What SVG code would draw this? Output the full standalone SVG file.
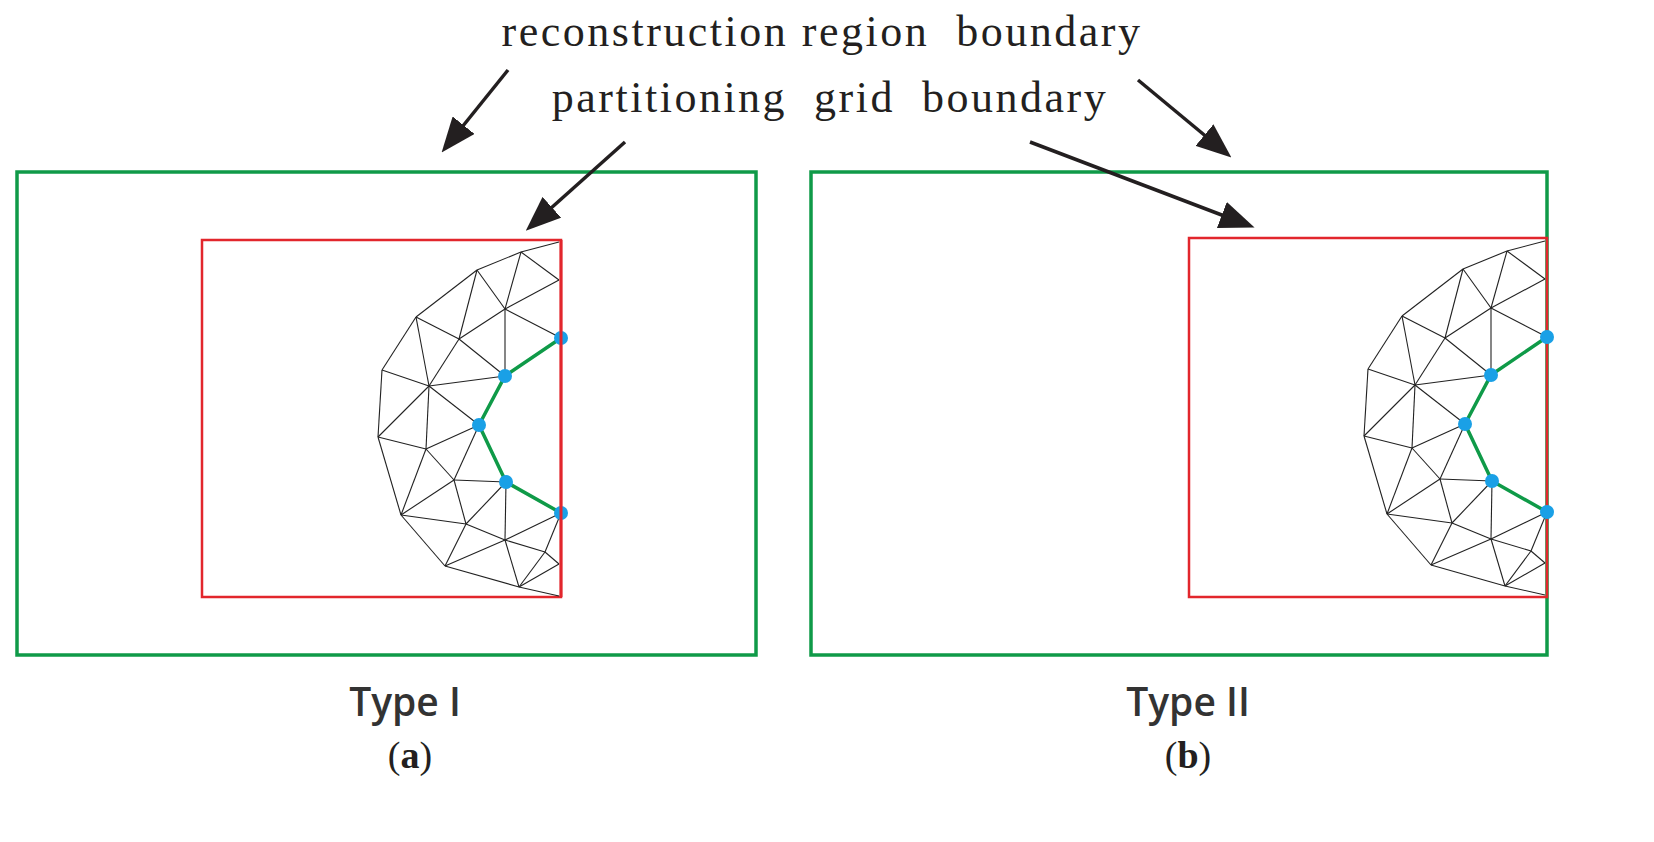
<svg xmlns="http://www.w3.org/2000/svg" width="1654" height="842" viewBox="0 0 1654 842">
<style>
.serif{font-family:"Liberation Serif","DejaVu Serif",serif;fill:#231f20}
.sans{font-family:"Open Sans","Liberation Sans",sans-serif;fill:#333;font-weight:600}
.mesh line{stroke:#222;stroke-width:1.1}
.grn{stroke:#0f9a48;stroke-width:3.5;fill:none}
.red{stroke:#e2262c;stroke-width:2.5;fill:none}
.outer{stroke:#0f9a48;stroke-width:3.5;fill:none}
.dot{fill:#1aa0e6}
.arr{stroke:#231f20;stroke-width:3.5;marker-end:url(#ah)}
</style>
<defs>
<marker id="ah" markerWidth="10" markerHeight="8" refX="8" refY="4" orient="auto" markerUnits="strokeWidth"><path d="M0,0 L10,4 L0,8 Z" fill="#231f20"/></marker>
<g id="meshdef">
<g class="mesh">
<line x1="559" y1="242" x2="521" y2="252"/><line x1="521" y1="252" x2="477" y2="270"/><line x1="477" y1="270" x2="416" y2="317"/><line x1="416" y1="317" x2="382" y2="370"/><line x1="382" y1="370" x2="378" y2="437"/><line x1="378" y1="437" x2="401" y2="515"/><line x1="401" y1="515" x2="445" y2="566"/><line x1="445" y1="566" x2="519" y2="587"/><line x1="519" y1="587" x2="559" y2="596"/>
<line x1="521" y1="252" x2="505" y2="309"/><line x1="521" y1="252" x2="559" y2="280"/><line x1="505" y1="309" x2="559" y2="280"/><line x1="505" y1="309" x2="561" y2="338"/>
<line x1="477" y1="270" x2="505" y2="309"/><line x1="477" y1="270" x2="459" y2="339"/><line x1="459" y1="339" x2="505" y2="309"/>
<line x1="416" y1="317" x2="459" y2="339"/><line x1="416" y1="317" x2="429" y2="386"/><line x1="459" y1="339" x2="429" y2="386"/><line x1="459" y1="339" x2="505" y2="376"/><line x1="505" y1="309" x2="505" y2="376"/>
<line x1="429" y1="386" x2="505" y2="376"/><line x1="429" y1="386" x2="382" y2="370"/><line x1="429" y1="386" x2="378" y2="437"/><line x1="429" y1="386" x2="426" y2="449"/><line x1="429" y1="386" x2="479" y2="425"/>
<line x1="378" y1="437" x2="426" y2="449"/><line x1="426" y1="449" x2="479" y2="425"/><line x1="426" y1="449" x2="401" y2="515"/><line x1="426" y1="449" x2="454" y2="480"/>
<line x1="454" y1="480" x2="479" y2="425"/><line x1="454" y1="480" x2="506" y2="482"/><line x1="454" y1="480" x2="401" y2="515"/><line x1="454" y1="480" x2="466" y2="524"/>
<line x1="401" y1="515" x2="466" y2="524"/><line x1="466" y1="524" x2="445" y2="566"/><line x1="466" y1="524" x2="506" y2="482"/><line x1="466" y1="524" x2="505" y2="540"/>
<line x1="505" y1="540" x2="506" y2="482"/><line x1="505" y1="540" x2="445" y2="566"/><line x1="505" y1="540" x2="519" y2="587"/><line x1="505" y1="540" x2="561" y2="513"/><line x1="505" y1="540" x2="545" y2="552"/>
<line x1="545" y1="552" x2="561" y2="513"/><line x1="545" y1="552" x2="519" y2="587"/><line x1="545" y1="552" x2="559" y2="564"/><line x1="519" y1="587" x2="559" y2="564"/>
</g>
<polyline class="grn" points="561,338 505,376 479,425 506,482 561,513"/>
<circle class="dot" cx="561" cy="338" r="7"/><circle class="dot" cx="505" cy="376" r="7"/><circle class="dot" cx="479" cy="425" r="7"/><circle class="dot" cx="506" cy="482" r="7"/><circle class="dot" cx="561" cy="513" r="7"/>
</g>
</defs>
<g id="labels">
<text class="serif" x="822" y="46" font-size="44" text-anchor="middle" letter-spacing="2.5" xml:space="preserve">reconstruction region  boundary</text>
<text class="serif" x="830" y="112" font-size="44" text-anchor="middle" letter-spacing="2.5" xml:space="preserve">partitioning  grid  boundary</text>
</g>
<g id="typeI">
<rect class="outer" x="17" y="172" width="739" height="483"/>
<rect class="red" x="202" y="240" width="359" height="357"/>
<use href="#meshdef"/>
<line x1="561" y1="240" x2="561" y2="597" stroke="#e2262c" stroke-width="3"/>
<text class="sans" x="405" y="716" font-size="39" text-anchor="middle">Type I</text>
<text class="serif" x="410" y="768" font-size="38" text-anchor="middle">(<tspan font-weight="bold">a</tspan>)</text>
</g>
<g id="typeII">
<rect class="outer" x="811" y="172" width="736" height="483"/>
<rect class="red" x="1189" y="238" width="358" height="359"/>
<use href="#meshdef" transform="translate(986,-1)"/>
<text class="sans" x="1188" y="716" font-size="39" text-anchor="middle">Type II</text>
<text class="serif" x="1188" y="768" font-size="38" text-anchor="middle">(<tspan font-weight="bold">b</tspan>)</text>
</g>
<g id="connectors">
<line class="arr" x1="508" y1="70" x2="446" y2="147"/>
<line class="arr" x1="625" y1="142" x2="531" y2="226"/>
<line class="arr" x1="1138" y1="80" x2="1226" y2="153"/>
<line class="arr" x1="1030" y1="142" x2="1248" y2="225"/>
</g>
</svg>
